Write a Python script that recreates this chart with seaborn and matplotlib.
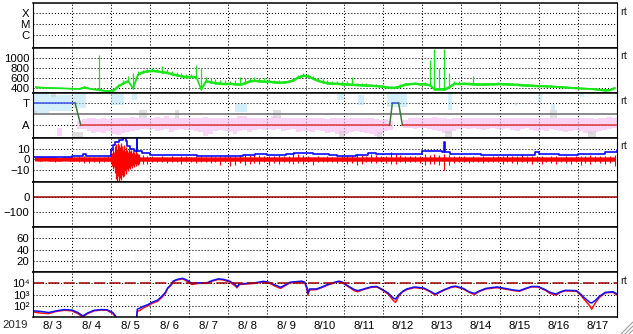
import numpy as np
import pandas as pd
import matplotlib
matplotlib.use("Agg")
import matplotlib.pyplot as plt
import seaborn as sns
from matplotlib.lines import Line2D

nan = float("nan")

# ---------------- data ----------------
day_labels = ["8/ 3", "8/ 4", "8/ 5", "8/ 6", "8/ 7", "8/ 8", "8/ 9", "8/10",
              "8/11", "8/12", "8/13", "8/14", "8/15", "8/16", "8/17"]
year_label = "2019"
xray_labels = ["C", "M", "X"]
sector_labels = ["A", "T"]
flux_labels = ["10²", "10³", "10⁴"]

# solar wind speed, 3-hour bins (hi / lo of the trace)
sw_hi = [425, 418, 412, 408, 405, 402, 398, 395,
         392, 390, 430, 400, 380, 1056, 352, 345,
         400, 470, 560, 640, 700, 730, 760, 775,
         790, 785, 842, 770, 740, 710, 690, 670,
         680, 855, 789, 620, 600, 580, 560, 550,
         540, 560, 608, 590, 600, 610, 600, 590,
         580, 560, 550, 545, 560, 600, 660, 690,
         680, 640, 600, 570, 550, 540, 545, 540,
         530, 621, 500, 495, 490, 480, 470, 460,
         440, 430, 425, 465, 495, 500, 505, 500,
         510, 956, 1169, 789, 1169, 688, 540, 530,
         520, 505, 628, 500, 495, 500, 500, 505,
         500, 495, 490, 485, 475, 470, 465, 458,
         452, 448, 445, 440, 432, 425, 420, 412,
         405, 400, 395, 388, 380, 372, 380, 415]
sw_lo = [405, 402, 398, 394, 390, 388, 385, 382,
         378, 375, 395, 380, 365, 348, 338, 330,
         335, 420, 480, 520, 374, 650, 700, 720,
         730, 720, 700, 690, 660, 640, 620, 600,
         610, 600, 354, 520, 500, 480, 470, 465,
         470, 460, 450, 480, 520, 530, 520, 510,
         510, 500, 490, 495, 510, 540, 600, 630,
         620, 570, 530, 500, 480, 470, 470, 460,
         455, 450, 445, 440, 435, 430, 425, 415,
         400, 388, 390, 420, 455, 465, 470, 460,
         460, 440, 354, 360, 354, 400, 470, 465,
         470, 465, 460, 455, 455, 460, 460, 465,
         462, 458, 452, 448, 440, 435, 430, 425,
         425, 420, 418, 412, 405, 398, 392, 385,
         380, 375, 370, 362, 350, 338, 345, 388]

# sector polarity scatter (3-hour bins): pink band extents
pink_hi = [nan, nan, nan, nan, nan, -1.2, -1.2, nan,
           nan, -0.6, -0.4, -0.35, -0.3, -0.4, -0.35, -0.4,
           -0.3, -0.3, -0.35, -0.3, -0.25, -0.3, -0.3, -0.35,
           -0.3, -0.25, -0.3, -0.2, -0.3, -0.25, -0.3, -0.35,
           -0.35, -0.3, -0.3, -0.25, -0.3, -0.35, -0.3, -0.3,
           -0.3, -0.3, -0.2, -0.15, -0.3, -0.3, -0.35, -0.3,
           -0.3, -0.2, -0.25, -0.3, -0.3, -0.35, -0.3, -0.3,
           -0.3, -0.35, -0.3, -0.3, -0.4, -0.35, -0.3, -0.3,
           -0.35, -0.3, -0.35, -0.3, -0.3, -0.35, -0.4, -0.5,
           -0.4, -0.6, -0.9, nan, -0.5, -0.3, -0.3, -0.3,
           -0.3, -0.3, -0.25, -0.3, -0.3, -0.4, -0.3, -0.3,
           -0.3, -0.35, -0.3, -0.3, -0.35, -0.3, -0.3, -0.35,
           -0.3, -0.3, -0.35, -0.3, -0.3, -0.35, -0.3, -0.3,
           -0.3, -0.3, -0.35, -0.3, -0.3, -0.3, -0.35, -0.3,
           -0.3, -0.3, -0.35, -0.4, -0.3, -0.3, -0.25, -0.3]
pink_lo = [nan, nan, nan, nan, nan, -1.9, -1.9, nan,
           nan, -1.3, -1.3, -1.5, -1.7, -1.6, -1.7, -1.5,
           -1.8, -1.85, -1.7, -1.6, -1.5, -1.4, -1.3, -1.3,
           -1.3, -1.5, -1.4, -1.3, -1.6, -1.4, -1.3, -1.4,
           -1.4, -1.5, -1.6, -1.9, -1.8, -1.5, -1.4, -1.5,
           -1.6, -1.8, -1.5, -1.4, -1.6, -1.4, -1.3, -1.4,
           -1.3, -1.4, -1.3, -1.5, -1.4, -1.3, -1.6, -1.5,
           -1.5, -1.6, -1.4, -1.5, -1.7, -1.6, -1.8, -1.9,
           -1.8, -1.6, -1.5, -1.6, -1.7, -1.8, -1.9, -1.8,
           -1.5, -1.4, -1.2, nan, -1.2, -1.2, -1.3, -1.2,
           -1.2, -1.3, -1.4, -1.5, -1.7, -1.8, -1.5, -1.3,
           -1.2, -1.3, -1.2, -1.3, -1.4, -1.3, -1.2, -1.3,
           -1.3, -1.2, -1.4, -1.5, -1.3, -1.2, -1.4, -1.5,
           -1.4, -1.5, -1.3, -1.4, -1.5, -1.6, -1.5, -1.4,
           -1.5, -1.7, -1.8, -1.6, -1.5, -1.4, -1.3, -1.2]
# light-blue patches: start, end, top, bottom
cyan_t0 = [0.0, 0.4, 1.04, 2.0, 2.54, 5.2, 7.8, 8.34, 9.08, 10.67, 12.37, 12.97, 13.3, 14.05]
cyan_t1 = [0.4, 1.0, 1.37, 2.34, 2.68, 5.5, 8.0, 8.5, 9.6, 10.76, 12.43, 13.07, 13.4, 14.15]
cyan_hi = [1.85, 1.7, 1.85, 1.8, 1.85, 0.95, 1.85, 1.7, 1.85, 1.85, 1.0, 1.85, 0.95, 1.85]
cyan_lo = [0.1, 0.25, 0.55, 0.85, 1.25, 0.2, 1.25, 0.85, 0.65, 0.37, 0.75, 1.1, 0.37, 1.5]
# gray patches
gray_t0 = [0.02, 0.45, 0.99, 2.73, 3.65, 6.17, 7.86, 8.83, 10.57, 13.28, 14.25]
gray_t1 = [0.11, 0.6, 1.28, 2.92, 3.74, 6.36, 8.0, 8.97, 10.76, 13.47, 14.45]
gray_hi = [0.3, 1.9, -1.6, 0.37, 0.35, 0.37, -1.5, -1.6, -1.5, 0.35, -1.5]
gray_lo = [0.0, 1.55, -2.1, -0.37, -0.3, -0.37, -2.1, -2.1, -2.0, -0.3, -2.0]
# sector line (T = 1, A = -1)
sector_t = [0, 1.08, 1.23, 9.16, 9.23, 9.39, 9.49, 15]
sector_v = [1, 1, -1, -1, 1, 1, -1, -1]

# IMF Bt
bt_t = [0, 0.5, 0.9, 1.0, 1.25, 1.28, 1.35, 1.9, 2.0, 2.05,
        2.1, 2.2, 2.3, 2.38, 2.42, 2.5, 2.6, 2.64, 2.66, 2.68,
        2.8, 3.0, 3.3, 3.8, 4.2, 4.7, 5.0, 5.4, 5.7, 6.0,
        6.5, 6.7, 6.9, 7.2, 7.6, 7.8, 8.0, 8.3, 8.6, 8.8,
        9.2, 9.6, 9.9, 10.0, 10.3, 10.5, 10.55, 10.58, 10.7, 11.0,
        11.5, 12.0, 12.5, 12.9, 13.0, 13.5, 14.0, 14.3, 14.7, 15.0]
bt_v = [2.3, 2.3, 2.5, 3.2, 3.5, 4.8, 3.5, 3.5, 8.4, 13,
        16, 18, 19.8, 17, 12, 10.0, 8.0, 8, 19, 8,
        6.0, 4.2, 3.8, 3.8, 3.5, 3.2, 3.5, 4.3, 4.75, 4.5,
        5.3, 6.3, 5.8, 4.75, 3.8, 3.2, 3.3, 4.3, 6.3, 5.4,
        5.36, 5.2, 5.4, 7.5, 7.5, 7.0, 15.5, 7.0, 5.4, 4.8,
        3.8, 4.2, 4.5, 6.9, 5.4, 3.8, 4.8, 4.8, 6.9, 8.4]
# IMF Bz, 3-hour bins (hi / lo of the spikes)
bz_hi = [2.0, 2.3, 2.0, 2.3, 2.0, 1.5, 2.0, 2.3,
         2.5, 3.0, 3.2, 2.5, 2.0, 2.3, 2.5, 3.0,
         4, 6, 6, 5, 5, 5, 4, 3.2,
         3.2, 2.5, 3.0, 2.5, 3.0, 2.5, 3.2, 2.8,
         2.5, 3.0, 3.2, 2.5, 3.0, 2.5, 2.8, 3.0,
         3.0, 3.5, 4.5, 5.4, 4.0, 5.0, 4.0, 3.5,
         3.0, 3.5, 4.0, 3.5, 3.0, 6.9, 5.0, 4.0,
         3.2, 2.5, 3.0, 2.5, 3.0, 2.5, 2.5, 3.0,
         4.0, 4.5, 5.4, 4.0, 3.5, 5.0, 4.0, 3.5,
         3.5, 6.9, 5.0, 4.0, 3.5, 3.0, 3.5, 3.0,
         5.4, 4.5, 5.0, 4.0, 5.4, 4.0, 3.5, 3.2,
         3.2, 2.5, 3.0, 2.5, 3.2, 2.5, 2.8, 3.0,
         3.5, 3.8, 3.0, 3.5, 3.8, 3.0, 3.5, 3.0,
         3.2, 2.5, 3.0, 3.2, 2.5, 3.0, 2.5, 3.2,
         3.5, 3.0, 3.8, 3.0, 3.5, 3.0, 3.5, 4.0]
bz_lo = [-1.0, -1.5, -1.0, -1.5, -2.3, -1.5, -1.0, -1.5,
         -1.5, -2.3, -3.0, -3.5, -2.5, -3.0, -2.0, -1.5,
         -4, -6, -6, -5, -5, -5, -4, -3.9,
         -2.3, -2.0, -2.5, -3.0, -2.3, -2.0, -4.5, -2.5,
         -2.3, -2.9, -2.0, -2.5, -3.0, -2.3, -4.8, -2.5,
         -6.0, -5.4, -3.0, -4.8, -3.8, -3.0, -3.8, -2.5,
         -4.8, -3.0, -3.8, -2.5, -3.0, -3.8, -3.0, -3.8,
         -2.3, -5.4, -2.3, -2.0, -2.3, -2.5, -3.0, -2.3,
         -3.8, -3.0, -4.8, -3.8, -2.5, -3.0, -3.5, -2.5,
         -3.0, -3.8, -3.8, -2.5, -3.0, -2.3, -2.5, -3.0,
         -5.4, -4.0, -3.8, -5.4, -10, -4.8, -3.0, -2.5,
         -2.3, -2.9, -2.0, -2.5, -2.9, -2.3, -2.0, -2.5,
         -3.8, -2.5, -3.0, -3.8, -2.5, -3.0, -3.8, -2.5,
         -3.8, -2.5, -3.0, -3.8, -2.5, -3.0, -3.8, -2.5,
         -4.8, -3.0, -3.8, -2.5, -3.0, -3.8, -3.0, -6.0]
# Bz during the storm of 8/5, 36-minute samples from 8/5 00:00
bz_evt_hi = [4, 6, 9, 7, 12, 14, 10, 15, 13, 11, 15, 12, 9, 13, 10,
             8, 11, 9, 7, 10, 8, 9, 6, 8, 7, 5, 9, 6, 4, 5]
bz_evt_lo = [-3, -6, -9, -7, -12, -18, -21, -15, -20, -17, -19, -14, -16, -12, -15,
             -10, -13, -9, -11, -8, -9, -6, -8, -5, -7, -4, -6, -4, -3, -4]

# Dst-type index
dst_t = [0, 15]
dst_v = [0, 0]

# electron flux (log10)
flux_t = [0, 0.2, 0.4, 0.6, 0.8, 1.0, 1.15, 1.28, 1.4, 1.57,
          1.75, 1.9, 2.05, 2.12, 2.16, 2.4, 2.66, 2.68, 2.75, 2.83,
          2.95, 3.05, 3.12, 3.2, 3.31, 3.4, 3.46, 3.55, 3.6, 3.7,
          3.84, 3.95, 4.08, 4.25, 4.47, 4.6, 4.76, 4.9, 5.06, 5.2,
          5.24, 5.3, 5.52, 5.7, 5.92, 6.05, 6.22, 6.36, 6.5, 6.6,
          6.9, 6.98, 7.04, 7.06, 7.1, 7.28, 7.4, 7.57, 7.75, 7.86,
          7.95, 8.1, 8.25, 8.34, 8.45, 8.54, 8.7, 8.83, 8.95, 9.12,
          9.25, 9.31, 9.4, 9.5, 9.6, 9.8, 10.04, 10.2, 10.33, 10.45,
          10.57, 10.75, 10.86, 11.05, 11.2, 11.34, 11.45, 11.63, 11.92, 12.2,
          12.35, 12.5, 12.65, 12.8, 12.97, 13.15, 13.28, 13.43, 13.55, 13.67,
          13.96, 14.08, 14.15, 14.3, 14.35, 14.45, 14.55, 14.7, 14.9, 15.0]
flux_blue = [1.55, 1.5, 1.4, 1.55, 1.66, 1.62, 1.4, 1.1, 1.35, 1.6,
             1.66, 1.65, 1.4, 1.1, 0.9, nan, 0.9, 1.7, 1.8, 1.95,
             2.1, 2.3, 2.4, 2.5, 2.85, 3.2, 3.6, 3.9, 4.2, 4.35,
             4.45, 4.3, 4.0, 4.05, 4.05, 4.25, 4.4, 4.35, 4.18, 3.85,
             3.7, 3.95, 4.0, 4.05, 4.18, 4.1, 3.85, 3.65, 3.9, 4.1,
             4.2, 4.1, 3.6, 3.1, 3.5, 3.5, 3.65, 3.9, 4.1, 4.2,
             4.1, 3.75, 3.45, 3.35, 3.45, 3.55, 3.7, 3.72, 3.5, 3.15,
             2.7, 2.6, 3.0, 3.3, 3.5, 3.68, 3.58, 3.3, 3.05, 3.25,
             3.45, 3.7, 3.75, 3.55, 3.25, 3.1, 3.3, 3.55, 3.68, 3.5,
             3.4, 3.35, 3.55, 3.72, 3.72, 3.45, 3.2, 3.05, 3.25, 3.38,
             3.35, 3.0, 2.75, 2.3, 2.25, 2.5, 2.85, 3.2, 3.25, 3.05]
flux_red = [1.45, 1.35, 1.3, 1.5, 1.6, 1.55, 1.3, 1.0, 1.3, 1.55,
            1.62, 1.6, 1.3, 1.0, 0.85, nan, 0.85, 1.5, 1.6, 1.8,
            2.0, 2.2, 2.3, 2.4, 2.75, 3.1, 3.55, 3.85, 4.15, 4.3,
            4.4, 4.2, 3.9, 4.0, 4.0, 4.2, 4.35, 4.3, 4.1, 3.75,
            3.6, 3.9, 3.95, 4.0, 4.12, 4.05, 3.75, 3.55, 3.85, 4.05,
            4.15, 4.05, 3.45, 2.95, 3.4, 3.45, 3.6, 3.85, 4.05, 4.15,
            4.05, 3.7, 3.35, 3.25, 3.4, 3.5, 3.65, 3.68, 3.45, 3.05,
            2.5, 2.3, 2.9, 3.25, 3.45, 3.62, 3.52, 3.25, 2.95, 3.2,
            3.4, 3.65, 3.7, 3.5, 3.2, 3.0, 3.25, 3.5, 3.62, 3.45,
            3.35, 3.3, 3.5, 3.68, 3.68, 3.4, 3.1, 2.95, 3.2, 3.33,
            3.3, 2.9, 2.6, 2.0, 1.7, 2.3, 2.75, 3.15, 3.2, 2.95]

# ---------------- style ----------------
sns.set_theme(style="white")
plt.rcParams["font.family"] = ["Liberation Sans", "DejaVu Sans"]
plt.rcParams["lines.scale_dashes"] = False

W, H = 633, 334
fig, axes = plt.subplots(7, 1, figsize=(W / 100, H / 100), dpi=100, sharex=True)
fig.subplots_adjust(left=33 / W, right=617 / W, top=1 - 3 / H, bottom=1 - 317 / H, hspace=0)
fig.patch.set_facecolor("white")

FS = 8.2
GRID = dict(color="black", linestyle=(0, (0.75, 1.45)), linewidth=0.75)
GREEN = "#18e618"
RED = "#ff0000"

nb = len(sw_hi)
bin_t = np.arange(nb) / 8.0
bin_c = bin_t + 1 / 16
edges = np.arange(nb + 1) / 8.0
evt_t = 2.0 + np.arange(len(bz_evt_hi)) * 0.025


def ext(a):
    a = np.asarray(a, dtype=float)
    return np.append(a, a[-1])


for ax in axes:
    ax.set_xlim(0, 15)
    ax.set_xticks(np.arange(1, 15))
    ax.set_xticks(np.arange(15) + 0.5, minor=True)
    ax.grid(True, which="major", **GRID)
    ax.tick_params(axis="both", which="both", length=0, pad=2.5, labelsize=FS, colors="black")
    for s in ["top", "bottom"]:
        ax.spines[s].set_linewidth(1.1)
        ax.spines[s].set_color("black")
    for s in ["left", "right"]:
        ax.spines[s].set_linewidth(0.8)
        ax.spines[s].set_color("black")
    ax.set_facecolor("white")

# panel 1: X-ray (no data)
ax = axes[0]
ax.set_yscale("log")
ax.set_ylim(10 ** -7.2, 10 ** -3.1)
ax.set_yticks([1e-6, 1e-5, 1e-4])
ax.set_yticklabels(xray_labels)
ax.yaxis.set_minor_locator(matplotlib.ticker.NullLocator())

# panel 2: solar wind speed
ax = axes[1]
sw_hi_a = np.asarray(sw_hi, float)
sw_lo_a = np.asarray(sw_lo, float)
core_top = np.minimum(sw_hi_a, sw_lo_a + 35)
ax.fill_between(bin_c, sw_lo_a, core_top, color=GREEN, linewidth=0.5, edgecolor=GREEN)
ax.vlines(bin_c, sw_lo_a, sw_hi_a, color=GREEN, linewidth=0.9)
sns.lineplot(x=bin_c, y=(sw_lo_a + core_top) / 2, ax=ax, color=GREEN,
             linewidth=0.8, sort=False, estimator=None)
ax.set_ylim(300, 1200)
ax.set_yticks([400, 600, 800, 1000])

# panel 3: sector polarity
ax = axes[2]
ax.fill_between(edges, ext(pink_lo), ext(pink_hi), step="post",
                color="#f7b8f2", alpha=0.6, linewidth=0)
for t0, t1, hi, lo in zip(cyan_t0, cyan_t1, cyan_hi, cyan_lo):
    ax.fill_between([t0, t1], [lo, lo], [hi, hi], color="#a8e2f6", alpha=0.5, linewidth=0)
for t0, t1, hi, lo in zip(gray_t0, gray_t1, gray_hi, gray_lo):
    ax.fill_between([t0, t1], [lo, lo], [hi, hi], color="#cfcfcf", alpha=0.65, linewidth=0)
ax.axhline(0, color="#777777", linewidth=1.2)
for i in range(len(sector_t) - 1):
    v0, v1 = sector_v[i], sector_v[i + 1]
    if v0 == v1:
        c = "#3c4fe0" if v0 > 0 else "#e03838"
    else:
        c = "#3c7a3c"
    sns.lineplot(x=sector_t[i:i + 2], y=sector_v[i:i + 2], ax=ax, color=c,
                 linewidth=1.1, sort=False, estimator=None)
ax.set_ylim(-2.08, 1.92)
ax.set_yticks([-1, 1])
ax.set_yticklabels(sector_labels)

# panel 4: IMF
ax = axes[3]
bz_hi_a = np.asarray(bz_hi, float)
bz_lo_a = np.asarray(bz_lo, float)
ax.fill_between(bin_c, np.maximum(bz_lo_a, -1.3), np.minimum(bz_hi_a, 2.0),
                color=RED, linewidth=0.4, edgecolor=RED)
ax.vlines(bin_c, bz_lo_a, bz_hi_a, color=RED, linewidth=0.8)
ax.vlines(evt_t, bz_evt_lo, bz_evt_hi, color=RED, linewidth=0.9)
sns.lineplot(x=bt_t, y=bt_v, ax=ax, color="#0a0aff", linewidth=1.2,
             sort=False, estimator=None, drawstyle="steps-post")
ax.set_ylim(-21, 20)
ax.set_yticks([-10, 0, 10])

# panel 5: Dst
ax = axes[4]
sns.lineplot(x=dst_t, y=dst_v, ax=ax, color="#a00000", linewidth=1.1,
             sort=False, estimator=None)
ax.set_ylim(-200, 100)
ax.set_yticks([-100, 0])

# panel 6: empty
ax = axes[5]
ax.set_ylim(0, 80)
ax.set_yticks([20, 40, 60])

# panel 7: electron flux
ax = axes[6]
ax.set_yscale("log")
ft = np.asarray(flux_t)
for vals, col in [(flux_red, "#ff1010"), (flux_blue, "#1010ff")]:
    v = np.asarray(vals, dtype=float)
    gap = np.where(np.isnan(v))[0]
    parts = np.split(np.arange(len(v)), gap)
    for p in parts:
        p = p[~np.isnan(v[p])]
        if len(p) > 1:
            sns.lineplot(x=ft[p], y=10 ** v[p], ax=ax, color=col, linewidth=1.1,
                         sort=False, estimator=None)
ax.axhline(1e4, color="#a00000", linewidth=1.1, linestyle=(0, (8, 3)))
ax.set_ylim(10, 1e5)
ax.set_yticks([1e2, 1e3, 1e4])
ax.set_yticklabels(flux_labels)
ax.yaxis.set_minor_locator(matplotlib.ticker.NullLocator())
ax.set_xticklabels([""] * 14)
ax.set_xticklabels(day_labels, minor=True)
ax.tick_params(axis="x", which="minor", pad=3, labelsize=FS)

for ax in axes:
    ax.set_xlabel("")
    ax.set_ylabel("")

fig.text(28 / W, 1 - 325 / H, year_label, ha="right", va="center", fontsize=FS)

for y in [12, 56, 101, 146, 281]:
    fig.text(620 / W, 1 - y / H, "rt", ha="left", va="center", fontsize=8)

# window resize grip
for k in [0, 4, 8]:
    fig.add_artist(Line2D([(621 + k) / W, 1.0], [0, (12 - k) / H],
                          color="#a0a0a0", linewidth=0.8))

fig.savefig("out.png", dpi=100, facecolor="white")
